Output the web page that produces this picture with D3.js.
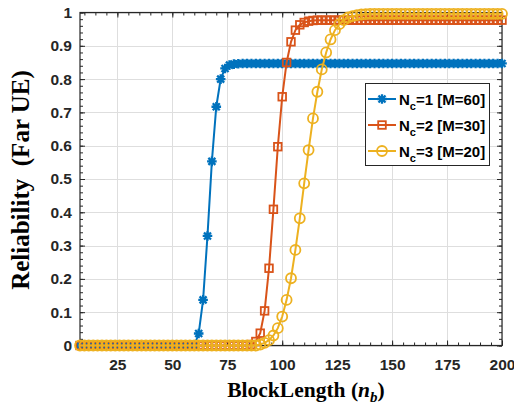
<!DOCTYPE html>
<html><head><meta charset="utf-8">
<script src="https://cdn.jsdelivr.net/npm/d3@7"></script>
<style>body{margin:0;background:#fff;} svg{display:block;}</style>
</head><body>
<svg id="chart" width="514" height="407"></svg>
<script>
const blockLength = [8,10,12,14,16,18,20,22,24,26,28,30,32,34,36,38,40,42,44,46,48,50,52,54,56,58,60,62,64,66,68,70,72,74,76,78,80,82,84,86,88,90,92,94,96,98,100,102,104,106,108,110,112,114,116,118,120,122,124,126,128,130,132,134,136,138,140,142,144,146,148,150,152,154,156,158,160,162,164,166,168,170,172,174,176,178,180,182,184,186,188,190,192,194,196,198,200];
const seriesNames = ["1 [M=60]","2 [M=30]","3 [M=20]"];
const reliabilityNc1 = [0,0,0,0,0,0,0,0,0,0,0,0,0,0,0,0,0,0,0,0,0,0,0,0,0,0,0,
  0.036,0.137,0.329,0.553,0.717,0.800,0.832,0.842,0.845,0.846,
  0.847,0.847,0.847,0.847,0.847,0.847,0.847,0.847,0.847,0.847,0.847,0.847,0.847,0.847,0.847,0.847,0.847,0.847,0.847,0.847,
  0.847,0.847,0.847,0.847,0.847,0.847,0.847,0.847,0.847,0.847,0.847,0.847,0.847,0.847,0.847,0.847,0.847,0.847,0.847,0.847,
  0.847,0.847,0.847,0.847,0.847,0.847,0.847,0.847,0.847,0.847,0.847,0.847,0.847,0.847,0.847,0.847,0.847,0.847,0.847,0.847];
const reliabilityNc2 = [0,0,0,0,0,0,0,0,0,0,0,0,0,0,0,0,0,0,0,0,0,0,0,0,0,0,0,0,0,0,0,0,0,0,0,0,0,0,0,
  0.003,0.012,0.037,0.104,0.232,0.409,0.597,0.747,0.850,0.912,0.947,0.963,0.970,0.974,0.976,0.977,
  0.977,0.977,0.977,0.977,0.977,0.977,0.977,0.977,0.977,0.977,0.977,0.977,0.977,0.977,0.977,0.977,0.977,0.977,0.977,0.977,0.977,
  0.977,0.977,0.977,0.977,0.977,0.977,0.977,0.977,0.977,0.977,0.977,0.977,0.977,0.977,0.977,0.977,0.977,0.977,0.977,0.977,0.977];
const reliabilityNc3 = [0,0,0,0,0,0,0,0,0,0,0,0,0,0,0,0,0,0,0,0,0,0,0,0,0,0,0,0,0,0,0,0,0,0,0,0,0,0,0,0,0,
  0.003,0.008,0.016,0.030,0.052,0.087,0.137,0.202,0.287,0.382,0.487,0.587,0.682,0.762,0.829,0.880,0.919,0.947,0.965,0.977,0.985,0.989,0.992,0.994,0.995,
  0.996,0.996,0.996,0.996,0.996,0.996,0.996,0.996,0.996,0.996,0.996,0.996,0.996,0.996,0.996,0.996,
  0.996,0.996,0.996,0.996,0.996,0.996,0.996,0.996,0.996,0.996,0.996,0.996,0.996,0.996,0.996];
const xTicks = [25,50,75,100,125,150,175,200];
const yTicks = [0,0.1,0.2,0.3,0.4,0.5,0.6,0.7,0.8,0.9,1];
const yTickLabels = ["0","0.1","0.2","0.3","0.4","0.5","0.6","0.7","0.8","0.9","1"];

const colors = ["#0072BD","#D95319","#EDB120"];
const markers = ["asterisk","square","circle"];
const series = [reliabilityNc1, reliabilityNc2, reliabilityNc3];

const svg = d3.select("#chart");
const L = 80, R = 502, T = 12.5, B = 345.5;
const x = d3.scaleLinear().domain([8,200]).range([L,R]);
const y = d3.scaleLinear().domain([0,1]).range([B,T]);
const axisColor = "#262626";

// grid
const grid = svg.append("g").attr("stroke","#dedede").attr("stroke-width",1);
xTicks.forEach(t => grid.append("line").attr("x1",Math.round(x(t))+0.5).attr("x2",Math.round(x(t))+0.5).attr("y1",T).attr("y2",B));
yTicks.forEach(t => grid.append("line").attr("y1",Math.round(y(t))+0.5).attr("y2",Math.round(y(t))+0.5).attr("x1",L).attr("x2",R));

// axes with inward ticks
const fmt = d => yTickLabels[yTicks.indexOf(d)];
const xMinor = d3.range(10,201,5);
const yMinor = d3.range(0,1.0001,0.02);
function mkAxis(g, axisGen){ g.call(axisGen); g.select(".domain").remove(); g.selectAll("line").attr("stroke",axisColor); }
const tickFont = "bold 15.5px 'Liberation Sans', Arial, sans-serif";

// bottom
const gB = svg.append("g").attr("transform",`translate(0,${B})`);
mkAxis(gB, d3.axisBottom(x).tickValues(xMinor).tickSize(-3).tickFormat(""));
const gB2 = svg.append("g").attr("transform",`translate(0,${B})`);
mkAxis(gB2, d3.axisBottom(x).tickValues(xTicks).tickSize(-5).tickPadding(13));
gB2.selectAll("text").style("font",tickFont).attr("fill",axisColor).attr("dy","0.71em");
// top
const gT = svg.append("g").attr("transform",`translate(0,${T})`);
mkAxis(gT, d3.axisTop(x).tickValues(xMinor).tickSize(-3).tickFormat(""));
mkAxis(svg.append("g").attr("transform",`translate(0,${T})`), d3.axisTop(x).tickValues(xTicks).tickSize(-5).tickFormat(""));
// left
const gL = svg.append("g").attr("transform",`translate(${L},0)`);
mkAxis(gL, d3.axisLeft(y).tickValues(yMinor).tickSize(-3).tickFormat(""));
const gL2 = svg.append("g").attr("transform",`translate(${L},0)`);
mkAxis(gL2, d3.axisLeft(y).tickValues(yTicks).tickSize(-5).tickPadding(13).tickFormat(fmt));
gL2.selectAll("text").style("font",tickFont).attr("fill",axisColor).attr("x",-8);
// right
mkAxis(svg.append("g").attr("transform",`translate(${R},0)`), d3.axisRight(y).tickValues(yMinor).tickSize(-3).tickFormat(""));
mkAxis(svg.append("g").attr("transform",`translate(${R},0)`), d3.axisRight(y).tickValues(yTicks).tickSize(-5).tickFormat(""));

// box
svg.append("rect").attr("x",L).attr("y",T).attr("width",R-L).attr("height",B-T)
  .attr("fill","none").attr("stroke",axisColor).attr("stroke-width",1.2);

// marker drawing
function drawMarker(g, type, cx, cy, color){
  if(type==="asterisk"){
    const s=4.8, d=3.5;
    const p=`M${cx-s},${cy}L${cx+s},${cy}M${cx},${cy-s}L${cx},${cy+s}M${cx-d},${cy-d}L${cx+d},${cy+d}M${cx-d},${cy+d}L${cx+d},${cy-d}`;
    g.append("path").attr("d",p).attr("stroke",color).attr("stroke-width",2.3).attr("fill","none");
  } else if(type==="square"){
    g.append("rect").attr("x",cx-3.8).attr("y",cy-3.8).attr("width",7.6).attr("height",7.6)
      .attr("fill","none").attr("stroke",color).attr("stroke-width",1.8);
  } else {
    g.append("circle").attr("cx",cx).attr("cy",cy).attr("r",5)
      .attr("fill","none").attr("stroke",color).attr("stroke-width",1.8);
  }
}

const line = d3.line().x((d,i)=>x(blockLength[i])).y(d=>y(d));
series.forEach((vals,k)=>{
  const g = svg.append("g");
  g.append("path").datum(vals).attr("d",line).attr("fill","none").attr("stroke",colors[k]).attr("stroke-width",2);
  vals.forEach((v,i)=>drawMarker(g, markers[k], x(blockLength[i]), y(v), colors[k]));
});

// legend
const lg = svg.append("g");
lg.append("rect").attr("x",365.5).attr("y",83.5).attr("width",124).attr("height",82)
  .attr("fill","#fff").attr("stroke",axisColor).attr("stroke-width",1);
const legY = [99,125,151];
seriesNames.forEach((nm,k)=>{
  const yy = legY[k];
  lg.append("line").attr("x1",368).attr("x2",396).attr("y1",yy).attr("y2",yy).attr("stroke",colors[k]).attr("stroke-width",2);
  drawMarker(lg, markers[k], 382, yy, colors[k]);
  const t = lg.append("text").attr("x",399).attr("y",yy+5.5).attr("fill","#000")
    .style("font","bold 15px 'Liberation Sans', Arial, sans-serif");
  t.append("tspan").text("N");
  t.append("tspan").attr("dy",5).style("font-size","11px").text("c");
  t.append("tspan").attr("dy",-5).text("=" + nm);
});

// axis labels
svg.append("text").attr("x",306).attr("y",397).attr("text-anchor","middle")
  .style("font","bold 21.5px 'Liberation Serif', 'Times New Roman', serif").attr("fill","#000")
  .call(t=>{
    t.append("tspan").text("BlockLength (");
    t.append("tspan").style("font-style","italic").text("n");
    t.append("tspan").style("font-style","italic").style("font-size","15px").attr("dy",5).text("b");
    t.append("tspan").attr("dy",-5).text(")");
  });
svg.append("text").attr("transform","translate(29,180) rotate(-90)").attr("text-anchor","middle")
  .style("font","bold 25px 'Liberation Serif', 'Times New Roman', serif").attr("fill","#000")
  .attr("xml:space","preserve").style("white-space","pre")
  .text("Reliability  (Far UE)");
</script>
</body></html>
